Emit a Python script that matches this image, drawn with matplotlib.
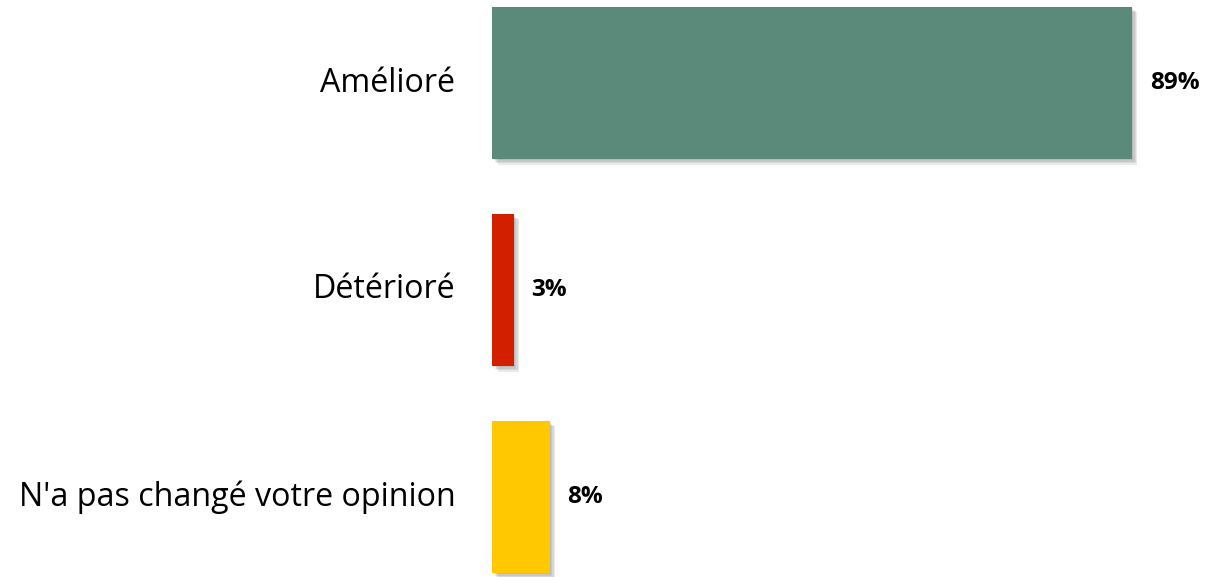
import matplotlib
matplotlib.use('Agg')
import matplotlib.pyplot as plt
import matplotlib.patheffects as pe

categories = ['Amélioré', 'Détérioré', "N'a pas changé votre opinion"]
values = [89, 3, 8]
colors = ['#5B8A7A', '#D21F00', '#FFC800']

fig = plt.figure(figsize=(12.08, 5.77), dpi=100)
ax = fig.add_axes([492 / 1208, 0, 683 / 1208, 1])

pos = list(range(len(categories)))
bars = ax.barh(pos, values, height=0.735, color=colors, zorder=2)
# soft shadow: a few stacked faint offsets
shadow = [pe.SimplePatchShadow(offset=(o, -o), shadow_rgbFace='#555555', alpha=0.12)
          for o in (1, 2, 3, 4)]
for b in bars:
    b.set_path_effects(shadow + [pe.Normal()])

ax.set_xlim(0, 95)
ax.set_ylim(2 + 80 / 207, -83 / 207)
ax.axis('off')

for p, v, c in zip(pos, values, categories):
    ax.text(v + 2.5, p, '%d%%' % v, va='center', ha='left', fontsize=17.5,
            fontweight='bold', family='Open Sans')
    ax.text(-5.1, p, c, va='center', ha='right', fontsize=23.2, family='Open Sans')

fig.savefig('out.png', dpi=100)
